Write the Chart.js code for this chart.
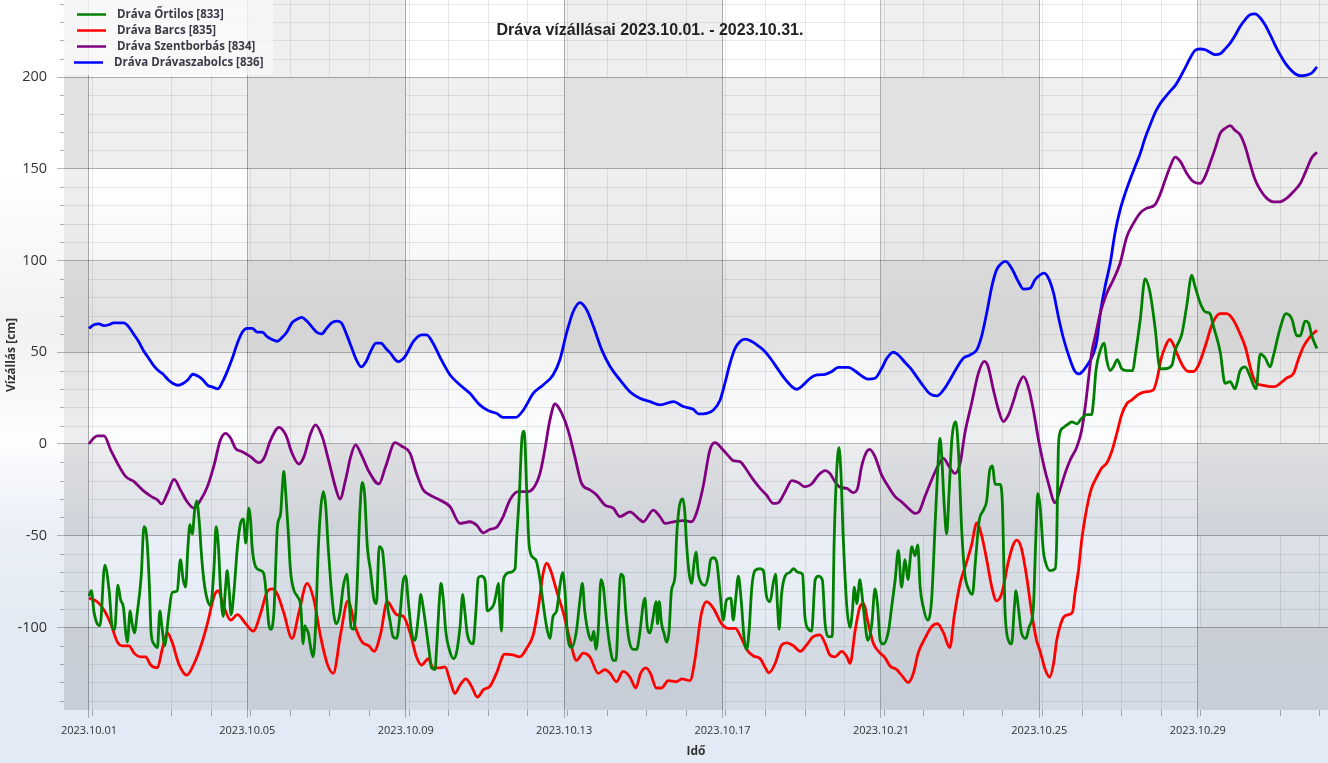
<!DOCTYPE html>
<html>
<head>
<meta charset="utf-8">
<title>Dráva vízállásai</title>
<script src="https://cdn.jsdelivr.net/npm/chart.js@4.4.0/dist/chart.umd.min.js"></script>
<style>
html, body { margin: 0; padding: 0; overflow: hidden; background: #fff; }
canvas { display: block; }
</style>
</head>
<body>
<canvas id="chart" width="1328" height="763"></canvas>
<script>
// x = days since 2023.10.01 00:00, y = water level in cm
const chartTitle = 'Dráva vízállásai 2023.10.01. - 2023.10.31.'
const seriesNames = ['Dráva Őrtilos [833]', 'Dráva Barcs [835]', 'Dráva Szentborbás [834]', 'Dráva Drávaszabolcs [836]']
const seriesColors = ['#008000', '#ff0000', '#800080', '#0000ff']

const ortilos = [[0,-83],[0.06,-80],[0.13,-92],[0.21,-98],[0.28,-99],[0.40,-66],[0.51,-80],[0.59,-100],[0.65,-101],[0.73,-77],[0.80,-85],[0.87,-89],[0.93,-103],[0.97,-108],[1.04,-91],[1.09,-98],[1.15,-103],[1.22,-92],[1.32,-72],[1.39,-45],[1.46,-51],[1.52,-74],[1.57,-103],[1.64,-109],[1.73,-111],[1.79,-91],[1.85,-101],[1.91,-110],[2.02,-92],[2.10,-81],[2.23,-80],[2.31,-63],[2.38,-74],[2.44,-78],[2.50,-56],[2.55,-44],[2.61,-49],[2.67,-36],[2.72,-31],[2.78,-41],[2.84,-60],[2.90,-74],[2.99,-85],[3.07,-88],[3.16,-67],[3.21,-45],[3.27,-56],[3.32,-78],[3.39,-94],[3.45,-78],[3.49,-69],[3.54,-80],[3.59,-93],[3.66,-81],[3.75,-56],[3.83,-43],[3.90,-41],[3.96,-54],[4.04,-35],[4.08,-41],[4.12,-56],[4.21,-67],[4.34,-69],[4.42,-71],[4.49,-85],[4.54,-98],[4.59,-101],[4.67,-92],[4.76,-45],[4.84,-38],[4.88,-25],[4.92,-15],[4.97,-27],[5.03,-47],[5.09,-69],[5.18,-80],[5.26,-83],[5.35,-89],[5.41,-109],[5.45,-99],[5.50,-101],[5.54,-103],[5.60,-111],[5.66,-116],[5.72,-101],[5.79,-58],[5.85,-36],[5.92,-26],[5.98,-34],[6.04,-56],[6.10,-74],[6.19,-94],[6.25,-98],[6.34,-92],[6.42,-78],[6.51,-71],[6.57,-85],[6.62,-100],[6.69,-101],[6.76,-83],[6.84,-38],[6.90,-21],[6.96,-27],[7.03,-56],[7.11,-69],[7.20,-85],[7.26,-87],[7.33,-56],[7.41,-58],[7.47,-71],[7.53,-87],
  [7.60,-96],[7.68,-105],[7.77,-106],[7.85,-94],[7.94,-74],[8.00,-72],[8.06,-85],[8.15,-103],[8.23,-107],[8.32,-94],[8.38,-82],[8.44,-89],[8.53,-103],[8.61,-116],[8.65,-122],[8.74,-123],[8.78,-111],[8.85,-85],[8.89,-76],[8.95,-85],[9.01,-102],[9.10,-112],[9.20,-117],[9.28,-114],[9.37,-100],[9.44,-82],[9.49,-91],[9.55,-103],[9.62,-108],[9.70,-109],[9.77,-92],[9.83,-73],[9.91,-72],[10.00,-74],[10.06,-91],[10.14,-90],[10.23,-87],[10.29,-81],[10.34,-76],[10.38,-91],[10.42,-102],[10.46,-76],[10.50,-72],[10.63,-70],[10.76,-68],[10.80,-52],[10.87,-27],[10.93,2],[10.97,7],[11.01,2],[11.05,-23],[11.12,-56],[11.22,-62],[11.30,-64],[11.39,-74],[11.47,-87],[11.56,-100],[11.64,-106],[11.72,-94],[11.81,-91],[11.89,-78],[11.96,-70],[12.02,-80],[12.08,-103],[12.19,-111],[12.31,-102],[12.40,-85],[12.46,-76],[12.52,-91],[12.61,-103],[12.69,-107],[12.75,-102],[12.80,-112],[12.86,-102],[12.93,-74],[12.99,-78],[13.07,-96],[13.16,-111],[13.24,-118],[13.31,-118],[13.37,-91],[13.43,-71],[13.49,-72],[13.56,-92],[13.64,-107],[13.75,-112],[13.83,-112],[13.91,-103],[14.00,-87],[14.04,-84],[14.10,-100],[14.17,-103],[14.25,-94],[14.32,-86],[14.36,-98],[14.40,-86],[14.46,-98],[14.52,-103],[14.59,-108],[14.65,-102],[14.71,-80],[14.80,-72],[14.84,-51],[14.91,-34],[15.00,-30],[15.05,-38],[15.09,-54],[15.16,-71],[15.22,-76],[15.28,-65],[15.33,-59],[15.39,-71],[15.47,-76],[15.56,-77],[15.64,-72],[15.70,-63],[15.77,-62],[15.85,-64],
  [15.94,-82],[16.02,-96],[16.10,-85],[16.21,-84],[16.27,-96],[16.33,-85],[16.40,-72],[16.47,-85],[16.55,-107],[16.61,-112],[16.67,-102],[16.74,-78],[16.82,-69],[16.95,-68],[17.03,-69],[17.11,-83],[17.20,-86],[17.28,-76],[17.34,-71],[17.39,-89],[17.43,-101],[17.49,-82],[17.58,-72],[17.70,-70],[17.79,-68],[17.91,-70],[18.02,-71],[18.08,-94],[18.17,-101],[18.25,-102],[18.34,-74],[18.42,-72],[18.52,-74],[18.59,-98],[18.67,-105],[18.77,-105],[18.82,-52],[18.88,-16],[18.94,-2],[18.99,-16],[19.05,-52],[19.14,-89],[19.22,-100],[19.28,-91],[19.33,-78],[19.39,-87],[19.47,-74],[19.51,-80],[19.58,-94],[19.67,-107],[19.77,-98],[19.85,-79],[19.92,-89],[19.98,-107],[20.06,-109],[20.19,-102],[20.27,-89],[20.36,-74],[20.44,-58],[20.52,-78],[20.61,-63],[20.68,-74],[20.78,-56],[20.86,-61],[20.93,-55],[20.99,-78],[21.07,-89],[21.18,-96],[21.28,-85],[21.37,-43],[21.43,-16],[21.49,3],[21.53,-5],[21.60,-34],[21.66,-49],[21.72,-27],[21.79,2],[21.89,12],[21.96,-5],[22.04,-47],[22.12,-71],[22.21,-79],[22.31,-82],[22.39,-63],[22.48,-42],[22.59,-36],[22.67,-31],[22.75,-14],[22.82,-12],[22.88,-22],[23.01,-22],[23.07,-34],[23.09,-52],[23.13,-89],[23.22,-107],[23.30,-109],[23.37,-89],[23.41,-80],[23.47,-89],[23.55,-103],[23.66,-106],[23.74,-100],[23.85,-89],[23.91,-52],[23.96,-27],[24.02,-34],[24.10,-58],
  [24.15,-64],[24.27,-69],[24.40,-68],[24.44,-52],[24.46,-25],[24.48,-3],[24.52,6],[24.61,9],[24.74,11],[24.82,12],[24.95,11],[25.07,14],[25.20,16],[25.32,16],[25.37,24],[25.43,40],[25.54,51],[25.64,55],[25.70,46],[25.79,40],[25.87,42],[25.97,46],[26.08,41],[26.21,40],[26.36,40],[26.42,48],[26.55,68],[26.67,90],[26.80,82],[26.92,64],[27.05,41],[27.18,41],[27.35,43],[27.43,51],[27.60,60],[27.72,75],[27.85,92],[27.93,86],[28.06,77],[28.19,72],[28.31,71],[28.40,64],[28.57,50],[28.69,33],[28.82,34],[28.94,30],[29.07,40],[29.20,42],[29.32,37],[29.47,30],[29.58,49],[29.70,47],[29.83,42],[29.91,48],[30.08,63],[30.23,71],[30.38,68],[30.50,59],[30.59,59],[30.71,67],[30.80,66],[30.88,59],[31.01,52]]

const barcs = [[0,-84],[0.21,-86],[0.38,-90.5],[0.55,-98],[0.72,-108],[0.84,-110],[1.01,-110],[1.14,-114],[1.30,-116],[1.43,-116],[1.56,-120.5],[1.73,-122],[1.85,-112],[1.98,-103],[2.10,-108],[2.27,-120],[2.47,-126],[2.65,-120],[2.82,-110.5],[2.99,-98],[3.16,-83],[3.26,-80],[3.41,-89],[3.58,-96],[3.75,-93],[3.96,-98],[4.15,-102],[4.34,-92],[4.50,-80.5],[4.63,-79],[4.76,-82],[4.92,-92],[5.13,-106],[5.30,-92],[5.51,-76],[5.68,-85],[5.85,-105],[6.02,-120],[6.17,-125],[6.36,-103],[6.54,-85.5],[6.73,-100],[6.90,-108],[7.07,-110],[7.20,-113],[7.37,-103],[7.53,-86],
  [7.77,-93],[7.94,-94],[8.11,-103],[8.27,-116],[8.40,-120.5],[8.57,-117],[8.69,-122],[8.86,-122],[8.99,-121.5],[9.12,-129],[9.24,-136],[9.37,-131.5],[9.52,-128],[9.66,-132],[9.81,-138],[9.96,-134],[10.13,-132],[10.29,-125],[10.50,-114.5],[10.71,-115],[10.88,-116],[11.05,-111.5],[11.22,-104],[11.35,-89],[11.47,-70.5],[11.56,-65],[11.66,-69],[11.81,-80],[11.98,-92],[12.15,-107],[12.31,-118],[12.48,-114],[12.65,-116],[12.86,-125],[13.03,-123],[13.16,-125],[13.32,-129.6],[13.49,-124],[13.66,-127],[13.81,-133],[13.93,-125],[14.07,-122],[14.18,-125],[14.33,-133],[14.46,-133],[14.63,-129],[14.84,-129.6],[14.97,-128],[15.18,-129],[15.30,-118],[15.47,-92],[15.60,-86],[15.77,-89.6],
  [15.98,-98],[16.15,-100.5],[16.32,-100.5],[16.48,-106],[16.61,-112],[16.78,-115.6],[16.95,-117],[17.07,-121.5],[17.17,-124.7],[17.33,-119.6],[17.49,-109.6],[17.62,-108.4],[17.79,-110],[17.96,-113],[18.12,-109.6],[18.29,-105],[18.46,-104],[18.59,-108.7],[18.71,-115],[18.84,-116],[19.01,-113],[19.14,-116],[19.22,-119.6],[19.35,-101.5],[19.47,-88.7],[19.56,-87],[19.68,-98],[19.81,-108.7],[19.98,-114],[20.10,-116.4],[20.23,-121],[20.40,-123],[20.52,-126],[20.69,-130],[20.82,-125],[20.94,-114],[21.11,-106],[21.28,-99.6],[21.43,-98],[21.58,-103],[21.74,-111],[21.85,-94],[22.00,-76],[22.17,-64],[22.29,-55],[22.42,-43],[22.54,-49.6],[22.67,-63],[22.80,-78],[22.92,-85.5],[23.05,-81.5],[23.22,-64],[23.34,-55],[23.43,-52.4],[23.55,-57],[23.68,-72.4],[23.81,-92.4],[23.93,-107],
  [24.02,-113],[24.15,-123],[24.26,-127],[24.36,-119.6],[24.44,-107],[24.52,-99.6],[24.61,-94.5],[24.74,-93],[24.84,-91.5],[24.90,-81.5],[24.99,-68.7],[25.07,-52.4],[25.16,-39.6],[25.24,-30.5],[25.32,-24],[25.45,-18],[25.58,-13],[25.70,-10.5],[25.83,-4],[25.96,6],[26.08,16],[26.21,22],[26.34,24],[26.50,27],[26.71,28.5],[26.88,29.5],[26.98,36],[27.07,46],[27.18,53],[27.29,57],[27.39,54],[27.51,47.6],[27.64,42],[27.77,39.5],[27.89,39.5],[28.02,43],[28.14,50],[28.23,56],[28.31,62],[28.44,68.5],[28.57,71],[28.73,71],[28.90,67.6],[29.07,60],[29.20,53],[29.37,38.5],[29.49,33],[29.66,32],[29.83,31.3],[29.95,31.3],[30.08,33],[30.25,36],[30.42,38.5],[30.54,46],[30.67,53],[30.84,58.5],[31.01,62]]

const szentborbas = [[0,0],[0.11,3],[0.21,4.4],[0.38,4.4],[0.55,-3.3],[0.72,-10.5],[0.93,-17.8],[1.14,-20.5],[1.35,-25],[1.56,-28.4],[1.73,-30.5],[1.83,-32.7],[1.98,-27],[2.15,-19.3],[2.31,-25],[2.48,-31.5],[2.65,-35],[2.82,-30.5],[2.99,-23.3],[3.16,-11.5],[3.32,2.2],[3.45,5.8],[3.58,3.1],[3.70,-2.4],[3.87,-4.2],[4.08,-6.9],[4.29,-10.2],[4.42,-7.8],[4.59,2.2],[4.80,9.1],[4.97,4.9],[5.13,-5.1],[5.30,-10.9],[5.43,-6.9],[5.60,5.8],[5.72,10.4],[5.89,4],[6.06,-9.6],[6.23,-24],[6.34,-30],[6.48,-19.6],[6.61,-6.9],[6.73,-0.5],[6.90,-6.9],[7.07,-15],[7.32,-21.8],[7.49,-12.4],
  [7.73,0.7],[7.89,-1.1],[8.11,-5.1],[8.27,-16],[8.44,-25],[8.61,-27.8],[8.86,-30.5],[9.12,-34.2],[9.37,-43.3],[9.62,-42.4],[9.79,-44.2],[9.96,-48.4],[10.13,-46.5],[10.29,-45.5],[10.46,-39.6],[10.63,-30.5],[10.84,-26],[11.05,-26],[11.22,-24.2],[11.39,-16],[11.51,-3.3],[11.64,13],[11.77,21.8],[11.94,16.7],[12.10,7.6],[12.27,-6.9],[12.44,-21.5],[12.65,-25],[12.82,-27.8],[13.03,-33.3],[13.24,-35],[13.41,-39.6],[13.66,-37],[13.87,-40.5],[14.00,-42.4],[14.25,-36],[14.42,-39.6],[14.55,-43.3],[14.76,-42.4],[15.01,-41.8],[15.22,-42.4],[15.34,-37.8],[15.51,-23.3],[15.68,-3.3],[15.81,0.7],
  [15.98,-2.4],[16.15,-6.5],[16.27,-9.1],[16.44,-9.6],[16.61,-14.2],[16.78,-19.6],[16.95,-24.2],[17.11,-27.8],[17.28,-32.4],[17.41,-32],[17.58,-26],[17.75,-20],[17.91,-21],[18.08,-23.3],[18.25,-21.8],[18.42,-17],[18.59,-14.5],[18.71,-16],[18.84,-20.5],[18.97,-23.6],[19.14,-24.2],[19.30,-26.5],[19.41,-24.2],[19.51,-12.4],[19.64,-4.2],[19.72,-2.9],[19.85,-6.9],[20.02,-17],[20.19,-23.3],[20.36,-28.7],[20.52,-31.5],[20.69,-35],[20.86,-37.8],[20.96,-37],[21.11,-28.7],[21.28,-19.6],[21.45,-11.5],[21.58,-7.8],[21.70,-11.5],[21.87,-16],[22.00,-10.5],[22.12,5.8],[22.29,22.2],[22.46,38.5],[22.61,45],[22.71,42],[22.84,29.5],[22.97,18.5],[23.09,12.2],[23.22,15.8],[23.34,23],[23.47,32],[23.60,36.7],[23.72,31.3],[23.85,18.5],[23.98,2.2],
  [24.10,-10.5],[24.23,-21.5],[24.40,-32],[24.52,-25],[24.65,-16],[24.78,-8.7],[24.95,-1.5],[25.07,7.6],[25.16,20.4],[25.24,35],[25.32,49.5],[25.41,58.5],[25.54,71.3],[25.70,82],[25.87,89.5],[26.04,98.5],[26.21,113],[26.38,120.4],[26.55,126],[26.71,128.5],[26.92,130.4],[27.05,136],[27.18,144],[27.30,151],[27.43,156.4],[27.56,154],[27.72,147.6],[27.89,143],[28.06,142],[28.19,146],[28.31,153],[28.44,161],[28.57,169.5],[28.69,172],[28.82,173.5],[28.94,171],[29.07,168.5],[29.20,162],[29.32,153],[29.45,144],[29.58,138.5],[29.74,134],[29.91,132],[30.08,132],[30.25,134],[30.42,137.6],[30.59,142],[30.71,147.6],[30.88,156],[31.01,159]]

const dravaszabolcs = [[0,63],[0.125,65],[0.25,65.5],[0.375,64.5],[0.5,65],[0.625,66],[0.75,66],[0.875,66],[1.0,64],[1.125,60],[1.25,56],[1.375,51],[1.5,47],[1.625,43],[1.75,40],[1.875,38],[2.0,35],[2.125,33],[2.25,32],[2.375,33],[2.5,35],[2.625,38],[2.75,37],[2.875,35],[3.0,32],[3.125,31],[3.25,30],[3.375,34],[3.5,40],[3.625,47],[3.75,55],[3.875,61],[4.0,63],[4.125,63],[4.25,61],[4.375,61],[4.5,58.5],[4.625,57],[4.75,56],[4.875,58],[5.0,61],[5.125,66],[5.25,68],[5.375,69],[5.5,67],[5.625,64],[5.75,61],[5.875,60],[6.0,63],[6.125,66],[6.25,67],[6.375,66],[6.5,60],[6.625,53],[6.75,46],[6.875,42],[7.0,45],[7.125,51],[7.25,55],[7.375,55],[7.5,52],
  [7.60,49.8],[7.81,44.9],[7.98,47.6],[8.19,55.8],[8.40,59.5],[8.53,59.5],[8.69,54.9],[8.90,45.8],[9.12,37.6],[9.37,32.2],[9.62,27.6],[9.87,21.3],[10.08,18.2],[10.29,16.7],[10.46,14.5],[10.78,14.5],[10.97,18.5],[11.22,27.6],[11.47,32.2],[11.72,37.6],[11.89,45.8],[12.06,60.4],[12.23,72.2],[12.40,77.1],[12.57,73.1],[12.74,64],[12.95,51.3],[13.16,42.2],[13.41,34.9],[13.66,28.5],[13.91,24.9],[14.17,23.1],[14.42,21.3],[14.76,23.1],[15.01,20.4],[15.26,18.9],[15.39,16.4],[15.60,16.7],[15.77,18.5],
  [15.94,24],[16.06,33.1],[16.19,44],[16.32,52.2],[16.44,55.8],[16.57,57.1],[16.74,55.8],[16.90,53.5],[17.07,50.4],[17.24,45.8],[17.41,40.4],[17.58,35.3],[17.75,31.3],[17.87,29.8],[18.04,32.2],[18.21,35.8],[18.38,37.6],[18.59,38],[18.76,39.5],[18.92,41.8],[19.18,41.8],[19.35,39.8],[19.51,37.1],[19.68,35.3],[19.85,35.8],[20.02,41.3],[20.15,46.7],[20.31,50],[20.44,48.5],[20.61,44.4],[20.78,40.4],[20.90,36.7],[21.07,31.6],[21.24,27.3],[21.41,26.2],[21.58,29.5],[21.74,34.9],[21.91,41.3],[22.08,46.7],[22.25,48.5],[22.42,51.3],[22.54,58.5],[22.67,71.3],[22.80,85.8],[22.92,94.9],[23.05,98.5],[23.15,99.5],[23.30,95.8],[23.47,88.5],[23.60,84.4],[23.77,84.9],[23.89,89.5],
  [24.02,92.2],[24.12,93.1],[24.23,90.4],[24.36,82.2],[24.48,69.5],[24.61,57.5],[24.78,45.8],[24.90,39.5],[25.01,38.2],[25.11,40],[25.24,44],[25.37,49.5],[25.45,56],[25.54,71.3],[25.66,85.8],[25.79,98.5],[25.91,114.9],[26.04,127.6],[26.17,136.7],[26.29,144],[26.42,151.3],[26.55,158.5],[26.67,166.7],[26.80,174],[26.92,180.4],[27.05,185.5],[27.18,189.1],[27.30,192.2],[27.43,195.3],[27.56,200],[27.68,204.9],[27.81,210.4],[27.93,214.5],[28.06,215.3],[28.19,214.9],[28.31,213.5],[28.44,212.2],[28.57,212.7],[28.69,215.3],[28.82,218.5],[28.94,222.5],[29.07,227.6],[29.20,231.3],[29.32,234],[29.45,234.4],[29.58,232.2],[29.70,228.5],[29.83,223.1],[29.95,217.6],[30.08,212.2],[30.21,207.6],[30.33,204.4],[30.46,201.8],[30.59,200.7],[30.75,201.1],[30.88,202.2],[31.01,205.5]]

const tickDays = [0, 4, 8, 12, 16, 20, 24, 28]
const tickLabels = ['2023.10.01', '2023.10.05', '2023.10.09', '2023.10.13', '2023.10.17', '2023.10.21', '2023.10.25', '2023.10.29']
const yTicks = [-100, -50, 0, 50, 100, 150, 200]
const yMinorStep = 10
const xTitle = 'Idő'
const yTitle = 'Vízállás [cm]'

const allSeries = [ortilos, barcs, szentborbas, dravaszabolcs]

// background: page gradient, interlaced strips (4 days / 50 cm), minor grid
const bandsPlugin = {
  id: 'bands',
  beforeDraw(chart) {
    const { ctx, chartArea: a, scales: { x, y } } = chart
    const g = ctx.createLinearGradient(0, 0, 0, chart.height)
    g.addColorStop(0, '#ffffff')
    g.addColorStop(0.22, '#ffffff')
    g.addColorStop(0.43, '#f1f1f2')
    g.addColorStop(0.58, '#fcfdfe')
    g.addColorStop(0.70, '#eaeff7')
    g.addColorStop(0.82, '#e4eaf3')
    g.addColorStop(1, '#e2eaf6')
    ctx.save()
    ctx.fillStyle = g
    ctx.fillRect(0, 0, chart.width, chart.height)

    const cells = []
    for (let lo = -200; lo < 300; lo += 50) {
      const hDark = Math.abs(lo / 50) % 2 === 1
      const top = Math.max(a.top, Math.round(y.getPixelForValue(lo + 50)))
      const bot = Math.min(a.bottom, Math.round(y.getPixelForValue(lo)))
      if (bot <= top) continue
      for (let k = -1; k < 9; k++) {
        const vDark = Math.abs(k) % 2 === 1
        const left = Math.max(a.left, Math.round(x.getPixelForValue(k * 4)))
        const right = Math.min(a.right, Math.round(x.getPixelForValue(k * 4 + 4)))
        if (right <= left) continue
        cells.push({ left, right, top, bot, n: (hDark ? 1 : 0) + (vDark ? 1 : 0) })
      }
    }

    // minor grid, hidden in the doubly shaded cells
    const minorDays = []
    for (let d = 0; d <= 31; d++) if (d !== 1 && d !== 29) minorDays.push(d + 0.07)
    const minorVals = []
    for (let v = -140; v <= 240; v += yMinorStep) if (v % 50 !== 0) minorVals.push(v)
    ctx.lineWidth = 1
    ctx.strokeStyle = 'rgba(0,0,0,0.085)'
    cells.filter(c => c.n < 2).forEach(c => {
      ctx.save()
      ctx.beginPath()
      ctx.rect(c.left, c.top, c.right - c.left, c.bot - c.top)
      ctx.clip()
      ctx.beginPath()
      minorDays.forEach(d => {
        const px = Math.round(x.getPixelForValue(d)) + 0.5
        ctx.moveTo(px, c.top); ctx.lineTo(px, c.bot)
      })
      minorVals.forEach(v => {
        const py = Math.round(y.getPixelForValue(v)) + 0.5
        ctx.moveTo(c.left, py); ctx.lineTo(c.right, py)
      })
      ctx.stroke()
      ctx.restore()
    })

    cells.forEach(c => {
      if (c.n === 0) return
      ctx.fillStyle = c.n === 1 ? 'rgba(0,0,0,0.062)' : 'rgba(0,0,0,0.118)'
      ctx.fillRect(c.left, c.top, c.right - c.left, c.bot - c.top)
    })

    // minor tick marks on the axes
    ctx.strokeStyle = 'rgba(0,0,0,0.3)'
    ctx.beginPath()
    minorDays.forEach(d => {
      const px = Math.round(x.getPixelForValue(d)) + 0.5
      if (px > a.right) return
      ctx.moveTo(px, a.bottom); ctx.lineTo(px, a.bottom + 6)
    })
    minorVals.forEach(v => {
      const py = Math.round(y.getPixelForValue(v)) + 0.5
      if (py < a.top) return
      ctx.moveTo(a.left - 4, py); ctx.lineTo(a.left, py)
    })
    ctx.stroke()
    ctx.restore()
  },
  afterDraw(chart) {
    const { ctx, chartArea: a } = chart
    ctx.save()
    // title
    ctx.fillStyle = '#222'
    ctx.font = 'bold 16px "Liberation Sans", Arial, sans-serif'
    ctx.textAlign = 'center'
    ctx.textBaseline = 'middle'
    ctx.fillText(chartTitle, 650, 31)

    // legend
    ctx.fillStyle = 'rgba(248,248,248,0.8)'
    ctx.fillRect(a.left, a.top, 209, 75)
    ctx.font = 'bold 11.5px "Open Sans", sans-serif'
    ctx.textAlign = 'left'
    chart.data.datasets.forEach((ds, i) => {
      const ly = a.top + 14.5 + i * 16
      const shift = i === 3 ? -3 : 0
      ctx.strokeStyle = ds.borderColor
      ctx.lineWidth = 2.5
      ctx.beginPath()
      ctx.moveTo(a.left + 13 + shift, ly); ctx.lineTo(a.left + 42 + shift, ly)
      ctx.stroke()
      ctx.fillStyle = '#3a3a48'
      ctx.fillText(ds.label, a.left + 53 + shift, ly)
    })
    ctx.restore()
  }
}

Chart.defaults.font.family = '"Open Sans", sans-serif'

new Chart(document.getElementById('chart'), {
  type: 'line',
  data: {
    datasets: allSeries.map((s, i) => ({
      label: seriesNames[i],
      data: s.map(p => ({ x: p[0], y: p[1] })),
      borderColor: seriesColors[i],
      backgroundColor: seriesColors[i],
      borderWidth: 2.8,
      pointRadius: 0,
      cubicInterpolationMode: 'monotone',
      fill: false
    }))
  },
  options: {
    responsive: false,
    devicePixelRatio: 1,
    animation: false,
    layout: { padding: 0 },
    plugins: { legend: { display: false }, title: { display: false }, tooltip: { enabled: false } },
    scales: {
      x: {
        type: 'linear',
        min: -0.63,
        max: 31.29,
        afterBuildTicks: s => { s.ticks = tickDays.map(v => ({ value: v })) },
        afterFit: s => { s.height = 53; s.paddingLeft = 0; s.paddingRight = 0 },
        ticks: {
          callback: v => tickLabels[tickDays.indexOf(v)],
          color: '#333', font: { size: 11 }, padding: 6, maxRotation: 0, autoSkip: false
        },
        grid: { color: 'rgba(0,0,0,0.28)', tickLength: 8 },
        border: { display: false },
        title: { display: true, text: xTitle, color: '#333', font: { size: 12, weight: 'bold' }, padding: { top: 0, bottom: 4 } }
      },
      y: {
        min: -145,
        max: 242,
        afterBuildTicks: s => { s.ticks = yTicks.map(v => ({ value: v })) },
        afterFit: s => { s.width = 64; s.paddingTop = 0; s.paddingBottom = 0 },
        ticks: { color: '#333', font: { size: 14.5 }, padding: 10 },
        grid: { color: 'rgba(0,0,0,0.28)', tickLength: 7 },
        border: { display: false },
        title: { display: true, text: yTitle, color: '#333', font: { size: 12, weight: 'bold' }, padding: { top: 4, bottom: 4 } }
      }
    }
  },
  plugins: [bandsPlugin]
})
</script>
</body>
</html>
